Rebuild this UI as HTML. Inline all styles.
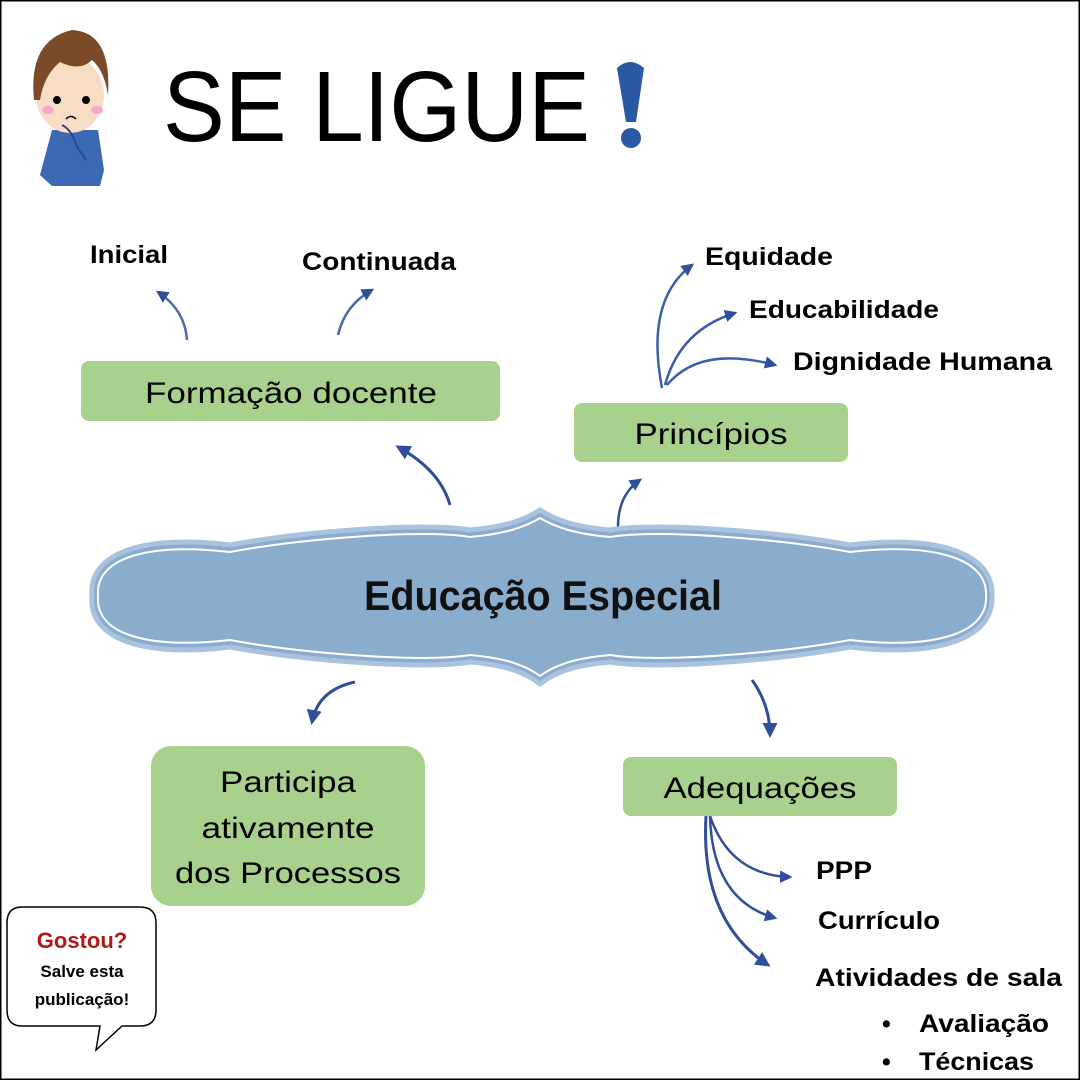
<!DOCTYPE html>
<html><head><meta charset="utf-8"><style>
html,body{margin:0;padding:0;background:#fff}
svg{display:block}
text{font-family:"Liberation Sans",sans-serif}
</style></head><body>
<svg width="1080" height="1080" viewBox="0 0 1080 1080" xmlns="http://www.w3.org/2000/svg">
<defs>
<marker id="ah" viewBox="0 0 10 10" refX="8" refY="5" markerWidth="5" markerHeight="5" orient="auto"><path d="M0,0 L10,5 L0,10 z" fill="#2f4f9a"/></marker>
</defs>
<rect x="0.5" y="0.5" width="1079" height="1079" fill="#fff" stroke="#000" stroke-width="2"/>

<!-- boy character -->
<g>
<path d="M40,175 L52,130 L98,130 L104,170 L100,186 L52,186 z" fill="#3d68b3"/>
<ellipse cx="70" cy="95" rx="34" ry="38" fill="#f9dcc4"/>
<path d="M34,100 Q28,40 72,30 Q112,32 108,95 Q104,70 92,60 Q80,72 60,62 Q44,75 40,100 z" fill="#7b4a28"/>
<circle cx="57" cy="100" r="4" fill="#000"/><circle cx="86" cy="100" r="4" fill="#000"/>
<ellipse cx="48" cy="110" rx="6" ry="4" fill="#f4a9c8"/><ellipse cx="97" cy="110" rx="6" ry="4" fill="#f4a9c8"/>
<path d="M66,119 Q71,114 76,119" stroke="#000" fill="none" stroke-width="1.5"/>
<path d="M62,125 Q72,130 76,145 L86,160" stroke="#2a4a88" fill="none" stroke-width="2"/>
</g>

<text x="163" y="141" font-size="100" textLength="427" lengthAdjust="spacingAndGlyphs" fill="#000">SE LIGUE</text>
<path d="M617,68 Q630,56 644,68 L636,122 L626,122 z" fill="#2b58a4"/>
<circle cx="631" cy="138" r="10" fill="#2b58a4"/>

<!-- top left labels -->
<text x="90" y="263" font-size="25" font-weight="bold" textLength="78" lengthAdjust="spacingAndGlyphs" fill="#000">Inicial</text>
<text x="302" y="270" font-size="25" font-weight="bold" textLength="154" lengthAdjust="spacingAndGlyphs" fill="#000">Continuada</text>
<path d="M187,340 Q185,310 158,292" stroke="#4a6aa8" stroke-width="2.5" fill="none" marker-end="url(#ah)"/>
<path d="M338,335 Q345,305 372,290" stroke="#4a6aa8" stroke-width="2.5" fill="none" marker-end="url(#ah)"/>

<rect x="81" y="361" width="419" height="60" rx="8" fill="#a9d18e"/>
<text x="291" y="403" font-size="30" text-anchor="middle" textLength="292" lengthAdjust="spacingAndGlyphs" fill="#000">Formação docente</text>

<!-- principios -->
<text x="705" y="265" font-size="25" font-weight="bold" textLength="128" lengthAdjust="spacingAndGlyphs" fill="#000">Equidade</text>
<text x="749" y="318" font-size="25" font-weight="bold" textLength="190" lengthAdjust="spacingAndGlyphs" fill="#000">Educabilidade</text>
<text x="793" y="370" font-size="25" font-weight="bold" textLength="259" lengthAdjust="spacingAndGlyphs" fill="#000">Dignidade Humana</text>
<path d="M662,388 Q645,300 692,265" stroke="#3a5ea8" stroke-width="2.5" fill="none" marker-end="url(#ah)"/>
<path d="M665,385 Q680,330 735,313" stroke="#3a5ea8" stroke-width="2.5" fill="none" marker-end="url(#ah)"/>
<path d="M667,385 Q700,345 775,365" stroke="#3a5ea8" stroke-width="2.5" fill="none" marker-end="url(#ah)"/>

<rect x="574" y="403" width="274" height="59" rx="8" fill="#a9d18e"/>
<text x="711" y="444" font-size="30" text-anchor="middle" textLength="153" lengthAdjust="spacingAndGlyphs" fill="#000">Princípios</text>

<!-- arrows from cloud -->
<path d="M450,505 Q440,470 398,447" stroke="#2f4f9a" stroke-width="3" fill="none" marker-end="url(#ah)"/>
<path d="M618,527 Q618,495 640,480" stroke="#2f4f9a" stroke-width="2.5" fill="none" marker-end="url(#ah)"/>
<path d="M355,682 Q318,690 312,722" stroke="#2f4f9a" stroke-width="3" fill="none" marker-end="url(#ah)"/>
<path d="M752,680 Q770,705 770,735" stroke="#2f4f9a" stroke-width="3" fill="none" marker-end="url(#ah)"/>

<!-- cloud -->
<path d="M92,596 C88,550 150,535 230,545 C300,532 420,522 470,530 C505,527 525,520 540,510 C555,520 575,527 610,530 C660,522 780,532 850,545 C930,535 994,550 992,596 C994,642 930,657 850,647 C780,660 660,670 610,662 C575,665 555,672 540,684 C525,672 505,665 470,662 C420,670 300,660 230,647 C150,657 88,642 92,596 z" fill="#8aaccd" stroke="#a9c3de" stroke-width="5"/>
<path d="M98,596 C95,556 152,543 230,552 C300,539 420,529 470,537 C505,534 525,527 540,518 C555,527 575,534 610,537 C660,529 780,539 850,552 C928,543 988,556 986,596 C988,636 928,649 850,640 C780,653 660,663 610,655 C575,658 555,665 540,676 C525,665 505,658 470,655 C420,663 300,653 230,640 C152,649 95,636 98,596 z" fill="none" stroke="#fff" stroke-width="2"/>
<text x="543" y="610" font-size="42" font-weight="bold" text-anchor="middle" textLength="358" lengthAdjust="spacingAndGlyphs" fill="#111">Educação Especial</text>

<!-- participa -->
<rect x="151" y="746" width="274" height="160" rx="20" fill="#a9d18e"/>
<text x="288" y="792" font-size="30" text-anchor="middle" textLength="136" lengthAdjust="spacingAndGlyphs" fill="#000">Participa</text>
<text x="288" y="838" font-size="30" text-anchor="middle" textLength="173" lengthAdjust="spacingAndGlyphs" fill="#000">ativamente</text>
<text x="288" y="883" font-size="30" text-anchor="middle" textLength="226" lengthAdjust="spacingAndGlyphs" fill="#000">dos Processos</text>

<!-- adequacoes -->
<rect x="623" y="757" width="274" height="59" rx="8" fill="#a9d18e"/>
<text x="760" y="798" font-size="30" text-anchor="middle" textLength="193" lengthAdjust="spacingAndGlyphs" fill="#000">Adequações</text>
<path d="M710,816 Q730,875 790,877" stroke="#2f4f9a" stroke-width="2.5" fill="none" marker-end="url(#ah)"/>
<path d="M710,816 Q712,900 775,918" stroke="#2f4f9a" stroke-width="2.5" fill="none" marker-end="url(#ah)"/>
<path d="M706,816 Q700,920 768,965" stroke="#2f4f9a" stroke-width="3" fill="none" marker-end="url(#ah)"/>
<text x="816" y="879" font-size="25" font-weight="bold" textLength="56" lengthAdjust="spacingAndGlyphs" fill="#000">PPP</text>
<text x="818" y="929" font-size="25" font-weight="bold" textLength="122" lengthAdjust="spacingAndGlyphs" fill="#000">Currículo</text>
<text x="815" y="986" font-size="25" font-weight="bold" textLength="247" lengthAdjust="spacingAndGlyphs" fill="#000">Atividades de sala</text>
<text x="882" y="1032" font-size="25" font-weight="bold" fill="#000">•</text>
<text x="919" y="1032" font-size="25" font-weight="bold" textLength="130" lengthAdjust="spacingAndGlyphs" fill="#000">Avaliação</text>
<text x="882" y="1070" font-size="25" font-weight="bold" fill="#000">•</text>
<text x="919" y="1070" font-size="25" font-weight="bold" textLength="115" lengthAdjust="spacingAndGlyphs" fill="#000">Técnicas</text>

<!-- speech bubble -->
<path d="M22,907 L140,907 Q156,907 156,923 L156,1010 Q156,1026 140,1026 L122,1026 L96,1050 L100,1026 L22,1026 Q7,1026 7,1010 L7,923 Q7,907 22,907 z" fill="#fff" stroke="#000" stroke-width="1.5"/>
<text x="82" y="948" font-size="22" font-weight="bold" text-anchor="middle" fill="#b01818">Gostou?</text>
<text x="82" y="977" font-size="17" font-weight="bold" text-anchor="middle" fill="#000">Salve esta</text>
<text x="82" y="1005" font-size="17" font-weight="bold" text-anchor="middle" fill="#000">publicação!</text>
</svg>
</body></html>
